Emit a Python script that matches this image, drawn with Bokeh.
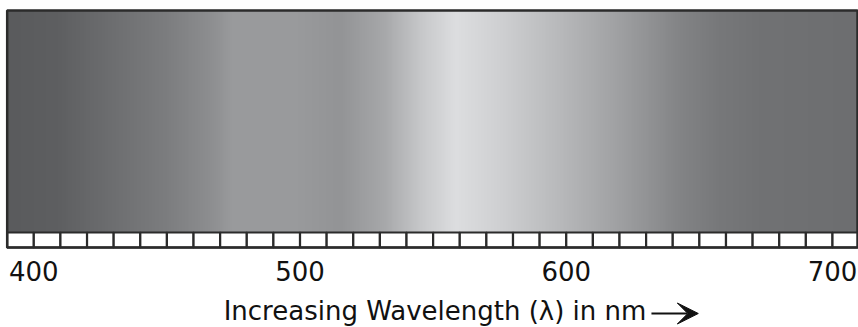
import numpy as np
from bokeh.plotting import figure
from bokeh.models import Range1d, Arrow, VeeHead
from bokeh.core.properties import value
from bokeh.embed import file_html
from bokeh.resources import INLINE

# Gray level of the spectrum strip at wavelengths in nm
stop_nm = [390.0, 408.6, 429, 449.4, 466, 474, 496.6, 515, 531.4, 545.3, 558.4, 575.3, 597.7, 620.2, 642.7, 657.6, 672.6, 709.4]
stop_gray = [91, 95, 110, 125, 142, 154, 155, 148, 168, 200, 222, 208, 185, 160, 132, 120, 114, 110]

# Ruler boxes every 10 nm
ruler_nm = [390, 400, 410, 420, 430, 440, 450, 460, 470, 480, 490, 500, 510, 520, 530,
            540, 550, 560, 570, 580, 590, 600, 610, 620, 630, 640, 650, 660, 670, 680,
            690, 700, 710]

# Tick labels
tick_nm = [400, 500, 600, 700]
tick_labels = ["400", "500", "600", "700"]
axis_title = "Increasing Wavelength (λ) in nm"

# spectrum extent (nm)
NM0, NM1 = 390.0, 709.4

# layout (vertical positions in screen pixels from the top)
Y_TOP, Y_RULER, Y_BOTTOM = 10, 232, 247
Y_TICKLABEL, Y_TITLE, Y_ARROW = 270, 310, 313

FONT = "DejaVu Sans"
TEXT = "#111111"
DARK = "#2b2b2b"

p = figure(width=858, height=327, x_range=Range1d(387.49, 709.77), y_range=Range1d(327, 0),
           output_backend="svg", toolbar_location=None, min_border=0,
           x_axis_location=None, y_axis_location=None, tools="")
p.grid.visible = False
p.background_fill_color = "white"
p.border_fill_color = "white"
p.outline_line_color = None

# gradient image built from the gray stops
ncol = 900
grid = np.linspace(NM0, NM1, ncol)
g = np.interp(grid, stop_nm, stop_gray)
r = np.clip(g - 1, 0, 255).astype(np.uint32)
gg = np.clip(g, 0, 255).astype(np.uint32)
b = np.clip(g + 2, 0, 255).astype(np.uint32)
rgba = (255 << 24) | (b << 16) | (gg << 8) | r
img = np.array([rgba], dtype=np.uint32)
p.image_rgba(image=[img], x=NM0, y=Y_TOP, dw=NM1 - NM0, dh=Y_RULER - Y_TOP)

# ruler boxes
p.quad(left=ruler_nm[:-1], right=ruler_nm[1:], bottom=Y_BOTTOM, top=Y_RULER,
       fill_color="white", line_color=DARK, line_width=2.2)

# outer frame
p.quad(left=[NM0], right=[NM1], bottom=[Y_BOTTOM], top=[Y_TOP],
       fill_color=None, line_color=DARK, line_width=2.5)

# tick labels
p.text(x=tick_nm, y=[Y_TICKLABEL] * len(tick_nm), text=tick_labels,
       text_font=value(FONT), text_font_size="26px", text_color=TEXT,
       text_align="center", text_baseline="alphabetic")

# axis title
p.text(x=[550.7], y=[Y_TITLE], text=[axis_title],
       text_font=value(FONT), text_font_size="26px", text_color=TEXT,
       text_align="center", text_baseline="alphabetic")

p.add_layout(Arrow(x_start=632.0, x_end=649.6, y_start=Y_ARROW, y_end=Y_ARROW,
                   line_width=2.2, line_color=TEXT,
                   end=VeeHead(size=21, fill_color=TEXT, line_color=TEXT, line_width=1)))

open("out.html", "w").write(file_html(p, INLINE))
